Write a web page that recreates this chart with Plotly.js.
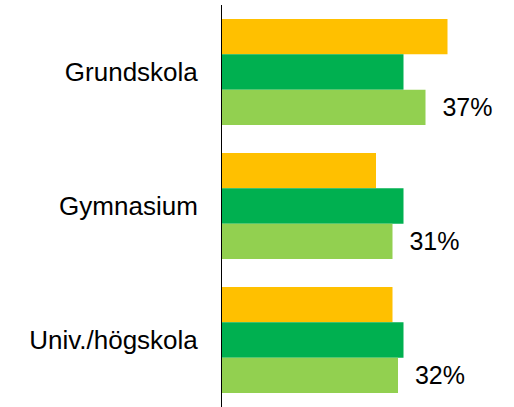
<!DOCTYPE html>
<html>
<head>
<meta charset="utf-8">
<script src="https://cdn.plot.ly/plotly-3.0.1.min.js"></script>
<style>html,body{margin:0;padding:0;background:#fff;}#chart{width:514px;height:407px;}</style>
</head>
<body>
<div id="chart"></div>
<script>
var categories = ["Grundskola", "Gymnasium", "Univ./högskola"];
var seriesA = [41, 28, 31];   // orange
var seriesB = [33, 33, 33];   // dark green
var seriesC = [37, 31, 32];   // light green (labelled)
var labelsC = ["37%", "31%", "32%"];

var pad = "\u00a0\u00a0";
var traces = [
  {type: "bar", orientation: "h", name: "A", y: categories, x: seriesA,
   marker: {color: "#FFC000"}, hoverinfo: "none"},
  {type: "bar", orientation: "h", name: "B", y: categories, x: seriesB,
   marker: {color: "#00B050"}, hoverinfo: "none"},
  {type: "bar", orientation: "h", name: "C", y: categories, x: seriesC,
   marker: {color: "#92D050"}, hoverinfo: "none",
   text: labelsC.map(function(s){return pad + s;}), textposition: "outside",
   cliponaxis: false,
   textfont: {family: "Liberation Sans, Arial, sans-serif", size: 25, color: "#000"}}
];

var layout = {
  width: 514, height: 407,
  margin: {l: 222, r: 0, t: 5, b: 0, pad: 0},
  paper_bgcolor: "#fff", plot_bgcolor: "#fff",
  showlegend: false,
  barmode: "group", bargap: 0.21, bargroupgap: 0,
  font: {family: "Liberation Sans, Arial, sans-serif", size: 26, color: "#000"},
  xaxis: {range: [0, 292 / 5.5], visible: false, showgrid: false, zeroline: false, fixedrange: true},
  yaxis: {autorange: "reversed", showline: true, linecolor: "#000", linewidth: 1,
          ticks: "", showgrid: false, zeroline: false, ticklabelstandoff: 18,
          tickfont: {size: 26, color: "#000"}, fixedrange: true}
};

Plotly.newPlot("chart", traces, layout, {displayModeBar: false, staticPlot: true});
</script>
</body>
</html>
